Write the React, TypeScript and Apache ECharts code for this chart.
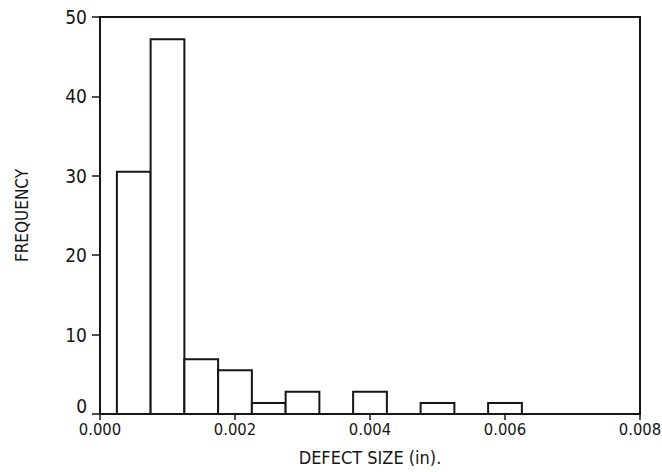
import React, { useEffect, useRef } from "react";
import * as echarts from "echarts";

// Histogram of defect sizes: bin centres (in) and frequency per bin
const binCenters = [0.0005, 0.001, 0.0015, 0.002, 0.0025, 0.003, 0.004, 0.005, 0.006];
const frequencies = [30.5, 47.2, 6.9, 5.5, 1.4, 2.8, 2.8, 1.4, 1.4];
const binWidth = 0.0005;

const xTicks = { min: 0, max: 0.008, interval: 0.002 };
const yTicks = { min: 0, max: 50, interval: 10 };

const FONT = "'DejaVu Sans Condensed', 'Liberation Sans Narrow', 'DejaVu Sans', sans-serif";
const INK = "#161616";

export default function App() {
  const ref = useRef<HTMLDivElement>(null);

  useEffect(() => {
    if (!ref.current) return;
    const chart = echarts.init(ref.current, undefined, { renderer: "svg" });

    const data = binCenters.map((c, i) => [c, frequencies[i]]);

    chart.setOption({
      animation: false,
      backgroundColor: "#ffffff",
      grid: {
        left: 100,
        top: 17,
        right: 22,
        bottom: 58,
        show: true,
        borderColor: INK,
        borderWidth: 2,
        backgroundColor: "transparent",
        containLabel: false,
        outerBoundsMode: "none",
      },
      xAxis: {
        type: "value",
        min: xTicks.min,
        max: xTicks.max,
        interval: xTicks.interval,
        name: "DEFECT SIZE (in).",
        nameLocation: "middle",
        nameGap: 34,
        nameTextStyle: { fontFamily: FONT, fontSize: 18, color: INK },
        axisLine: { show: true, lineStyle: { color: INK, width: 2 } },
        axisTick: { show: true, inside: false, length: 6, lineStyle: { color: INK, width: 1.5 } },
        axisLabel: {
          fontFamily: FONT,
          fontSize: 16.5,
          color: INK,
          margin: 7,
          formatter: (v: number) => v.toFixed(3),
        },
        splitLine: { show: false },
      },
      yAxis: {
        type: "value",
        min: yTicks.min,
        max: yTicks.max,
        interval: yTicks.interval,
        name: "FREQUENCY",
        nameLocation: "middle",
        nameGap: 70,
        nameTextStyle: { fontFamily: FONT, fontSize: 17, color: INK },
        axisLine: { show: true, lineStyle: { color: INK, width: 2 } },
        axisTick: { show: true, inside: false, length: 8, lineStyle: { color: INK, width: 1.5 } },
        axisLabel: {
          fontFamily: FONT,
          fontSize: 19,
          color: INK,
          margin: 13,
          formatter: (v: number) => (v === 0 ? "{z|0}" : String(v)),
          rich: {
            z: { fontFamily: FONT, fontSize: 19, color: INK, padding: [0, 0, 16, 0] },
          },
        },
        splitLine: { show: false },
      },
      series: [
        {
          type: "custom",
          data,
          encode: { x: 0, y: 1 },
          renderItem: (params: any, api: any) => {
            const c = api.value(0);
            const f = api.value(1);
            const topLeft = api.coord([c - binWidth / 2, f]);
            const bottomRight = api.coord([c + binWidth / 2, 0]);
            return {
              type: "rect",
              shape: {
                x: topLeft[0],
                y: topLeft[1],
                width: bottomRight[0] - topLeft[0],
                height: bottomRight[1] - topLeft[1],
              },
              style: { fill: "#ffffff", stroke: INK, lineWidth: 2 },
            };
          },
        },
      ],
    });

    return () => chart.dispose();
  }, []);

  return (
    <div
      ref={ref}
      style={{ position: "fixed", left: 0, top: 0, width: 662, height: 472, background: "#fff" }}
    />
  );
}
